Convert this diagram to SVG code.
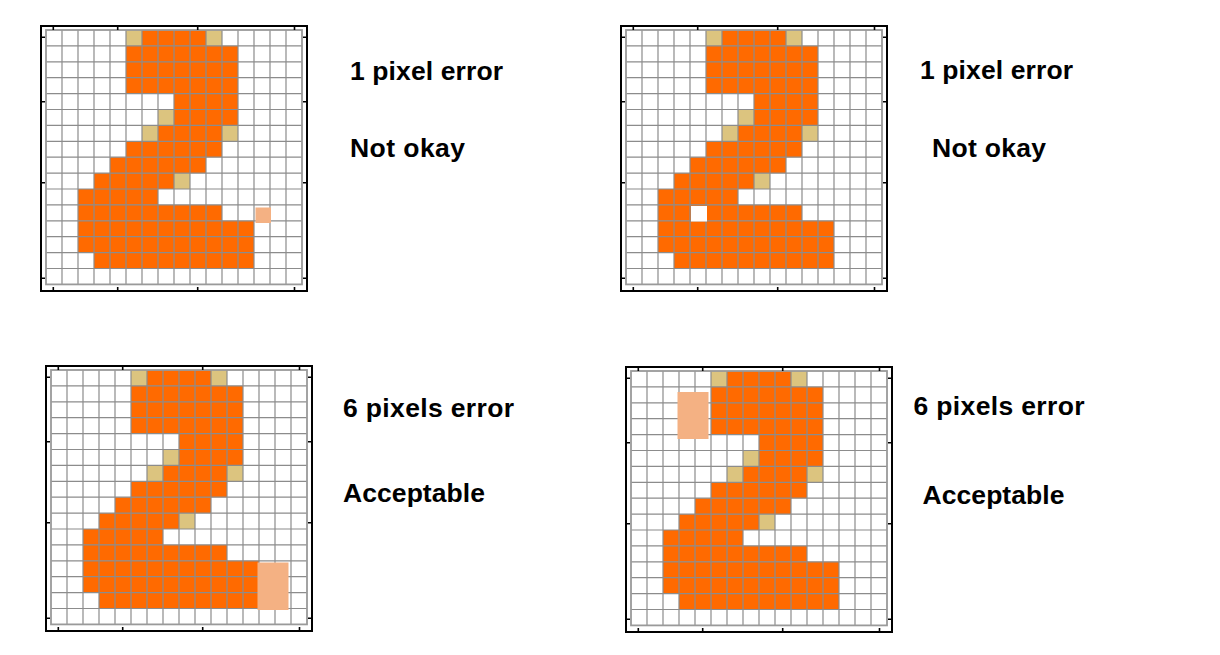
<svg xmlns="http://www.w3.org/2000/svg" xmlns:xlink="http://www.w3.org/1999/xlink" width="1220" height="655" viewBox="0 0 1220 655">
<style>
.or{fill:#FF6A00}
.tn{fill:#DCC47F}
.err{fill:#F4B183}
.gl{fill:none;stroke:#8c8c8c;stroke-width:1.2}
.gb{fill:none;stroke:#9a9a9a;stroke-width:1.8}
.fr{fill:none;stroke:#000;stroke-width:2}
.tk{fill:none;stroke:#000;stroke-width:1.6}
.lbl{font-family:"Liberation Sans",Arial,sans-serif;font-size:26.5px;font-weight:bold;fill:#000}
</style>
<defs>
<g id="digit">
<rect class="tn" x="126" y="30" width="16" height="15.9"/>
<rect class="or" x="142" y="30" width="64" height="15.9"/>
<rect class="tn" x="206" y="30" width="16" height="15.9"/>
<rect class="or" x="126" y="45.9" width="112" height="47.7"/>
<rect class="or" x="174" y="93.6" width="64" height="15.9"/>
<rect class="tn" x="158" y="109.5" width="16" height="15.9"/>
<rect class="or" x="174" y="109.5" width="64" height="15.9"/>
<rect class="tn" x="142" y="125.4" width="16" height="15.9"/>
<rect class="or" x="158" y="125.4" width="64" height="15.9"/>
<rect class="tn" x="222" y="125.4" width="16" height="15.9"/>
<rect class="or" x="126" y="141.3" width="96" height="15.9"/>
<rect class="or" x="110" y="157.2" width="96" height="15.9"/>
<rect class="or" x="94" y="173.1" width="80" height="15.9"/>
<rect class="tn" x="174" y="173.1" width="16" height="15.9"/>
<rect class="or" x="78" y="189" width="80" height="15.9"/>
<rect class="or" x="78" y="204.9" width="144" height="15.9"/>
<rect class="or" x="78" y="220.8" width="176" height="31.8"/>
<rect class="or" x="94" y="252.6" width="160" height="15.9"/>
<path class="gl" d="M62 30V284.4M78 30V284.4M94 30V284.4M110 30V284.4M126 30V284.4M142 30V284.4M158 30V284.4M174 30V284.4M190 30V284.4M206 30V284.4M222 30V284.4M238 30V284.4M254 30V284.4M270 30V284.4M286 30V284.4M46 45.9H302M46 61.8H302M46 77.7H302M46 93.6H302M46 109.5H302M46 125.4H302M46 141.3H302M46 157.2H302M46 173.1H302M46 189H302M46 204.9H302M46 220.8H302M46 236.7H302M46 252.6H302M46 268.5H302"/>
<rect class="gb" x="46" y="30" width="256" height="254.4"/>
<rect class="fr" x="41" y="26" width="266" height="265"/>
<path class="tk" d="M53.3 26v4M117.7 26v4M197.7 26v4M294.5 26v4M53.3 291v-4M117.7 291v-4M197.7 291v-4M294.5 291v-4M41 37.3h4M41 101.7h4M41 182.7h4M41 278.3h4M307 37.3h-4M307 101.7h-4M307 182.7h-4M307 278.3h-4"/>
</g>
</defs>
<rect width="1220" height="655" fill="#fff"/>
<g id="panel-1">
<use xlink:href="#digit" href="#digit"/>
<rect class="err" x="255.5" y="207.5" width="15.5" height="15.5"/>
<text class="lbl" x="350" y="79.5" textLength="153" lengthAdjust="spacing">1 pixel error</text>
<text class="lbl" x="350" y="156.5" textLength="115" lengthAdjust="spacing">Not okay</text>
</g>
<g id="panel-2">
<use xlink:href="#digit" href="#digit" transform="translate(580,0)"/>
<rect fill="#fff" x="691" y="206" width="16" height="15.5"/>
<text class="lbl" x="920" y="78.5" textLength="153" lengthAdjust="spacing">1 pixel error</text>
<text class="lbl" x="932" y="156.5" textLength="114" lengthAdjust="spacing">Not okay</text>
</g>
<g id="panel-3">
<use xlink:href="#digit" href="#digit" transform="translate(5,340)"/>
<rect class="err" x="257.5" y="562.5" width="31" height="47.5"/>
<text class="lbl" x="343" y="417" textLength="171" lengthAdjust="spacing">6 pixels error</text>
<text class="lbl" x="343" y="502" textLength="142" lengthAdjust="spacing">Acceptable</text>
</g>
<g id="panel-4">
<use xlink:href="#digit" href="#digit" transform="translate(585,341)"/>
<rect class="err" x="677.5" y="392" width="31" height="47"/>
<text class="lbl" x="913.5" y="414.5" textLength="171" lengthAdjust="spacing">6 pixels error</text>
<text class="lbl" x="922.5" y="503.5" textLength="142" lengthAdjust="spacing">Acceptable</text>
</g>
<g id="connectors"/>
</svg>
